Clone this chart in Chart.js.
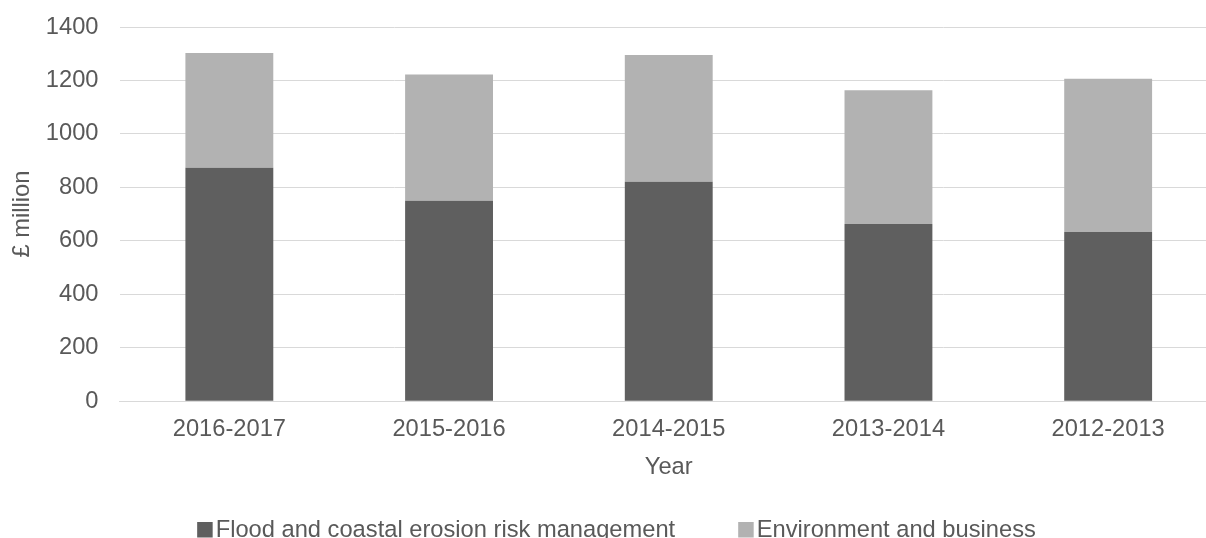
<!DOCTYPE html>
<html>
<head>
<meta charset="utf-8">
<script src="https://cdn.jsdelivr.net/npm/chart.js@4/dist/chart.umd.min.js"></script>
<style>
  html, body { margin: 0; padding: 0; background: #ffffff; overflow: hidden; }
  #wrap { width: 1233px; height: 538px; position: relative; }
</style>
</head>
<body>
<div id="wrap"><canvas id="chart"></canvas></div>
<script>
// Spending by financial year, £ million
const years = ['2016-2017', '2015-2016', '2014-2015', '2013-2014', '2012-2013'];
const floodRisk = [873, 750, 821, 663, 633];
const environmentBusiness = [430, 472, 474, 500, 573];
const seriesNames = ['Flood and coastal erosion risk management', 'Environment and business'];
const yTicks = [0, 200, 400, 600, 800, 1000, 1200, 1400];

const FONT = "'Liberation Sans', Arial, sans-serif";
const FONT_SIZE = 23.7;
const TEXT = '#595959';

Chart.defaults.font.family = FONT;
Chart.defaults.font.size = FONT_SIZE;
Chart.defaults.color = TEXT;

// Legend drawn along the bottom edge: square swatch, then label
const bottomLegend = {
  id: 'bottomLegend',
  afterDraw(chart) {
    const ctx = chart.ctx;
    const box = 15.5, boxGap = 3, itemGap = 63;
    ctx.save();
    ctx.font = FONT_SIZE + 'px ' + FONT;
    const items = chart.data.datasets.map(ds => ({
      label: ds.label, color: ds.backgroundColor, w: ctx.measureText(ds.label).width
    }));
    let total = 0;
    items.forEach((it, i) => { total += box + boxGap + it.w + (i ? itemGap : 0); });
    let x = chart.width / 2 - total / 2;
    const baseline = 537;
    items.forEach(it => {
      ctx.fillStyle = it.color;
      ctx.fillRect(x, 522, box, box);
      x += box + boxGap;
      ctx.fillStyle = TEXT;
      ctx.textBaseline = 'alphabetic';
      ctx.textAlign = 'left';
      ctx.fillText(it.label, x, baseline);
      x += it.w + itemGap;
    });
    ctx.restore();
  }
};

new Chart(document.getElementById('chart'), {
  type: 'bar',
  data: {
    labels: years,
    datasets: [
      { label: seriesNames[0], data: floodRisk, backgroundColor: '#5f5f5f',
        categoryPercentage: 1, barPercentage: 0.4 },
      { label: seriesNames[1], data: environmentBusiness, backgroundColor: '#b2b2b2',
        categoryPercentage: 1, barPercentage: 0.4 }
    ]
  },
  options: {
    responsive: true,
    maintainAspectRatio: false,
    animation: false,
    layout: { padding: { left: 0, right: 15, top: 27, bottom: 60.7 } },
    plugins: {
      legend: { display: false },
      tooltip: { enabled: false }
    },
    scales: {
      x: {
        stacked: true,
        grid: { display: false, drawTicks: false },
        border: { display: true, color: '#d9d9d9', width: 1 },
        ticks: { padding: 14, color: TEXT },
        title: { display: true, text: 'Year', color: TEXT, font: { lineHeight: 0.8 },
                 padding: { top: 0.7, bottom: 0 } }
      },
      y: {
        stacked: true,
        min: 0,
        max: 1400,
        afterBuildTicks(scale) { scale.ticks = yTicks.map(v => ({ value: v })); },
        afterFit(scale) { scale.width = 119.5; scale.paddingTop = 0; },
        grid: { color: '#d9d9d9', lineWidth: 1, drawTicks: false },
        border: { display: false },
        ticks: { padding: 21, color: TEXT, callback: v => String(v) },
        title: { display: true, text: '£ million', color: TEXT, padding: { top: 8.7, bottom: 0 } }
      }
    }
  },
  plugins: [bottomLegend]
});
</script>
</body>
</html>
